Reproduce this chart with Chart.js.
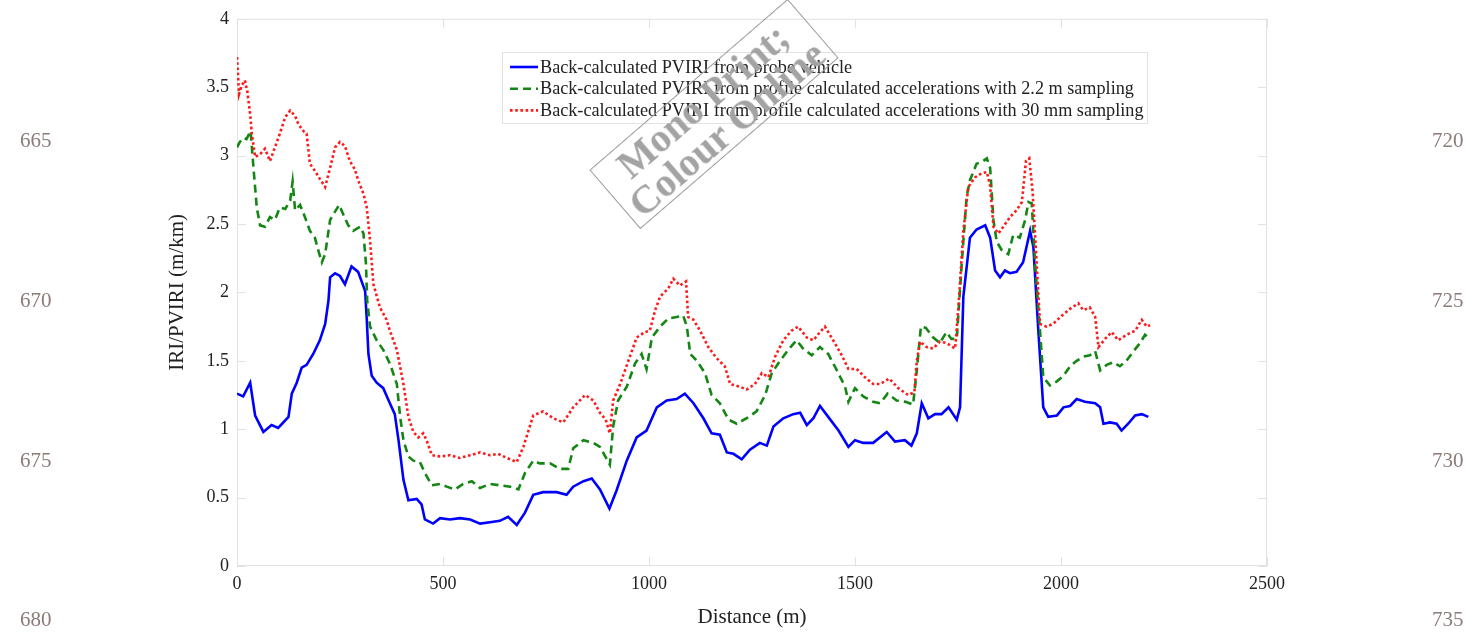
<!DOCTYPE html>
<html>
<head>
<meta charset="utf-8">
<script src="https://cdn.jsdelivr.net/npm/chart.js@4.4.0/dist/chart.umd.min.js"></script>
<style>
  html, body { margin: 0; padding: 0; background: #fff; }
  #wrap { position: relative; width: 1481px; height: 632px; overflow: hidden; }
  #chart { position: absolute; left: 0; top: 0; }
  .lineno { position: absolute; font: 21px "Liberation Serif", serif; color: #8b7b79; line-height: 1; }
  #stamp {
    position: absolute; left: 583px; top: 75px; width: 262px; height: 78px;
    border: 1px solid #9a9a9a; transform: rotate(-40.8deg);
    font: bold 40px "Liberation Serif", serif; color: #a3a3a3;
    text-align: center; line-height: 37px; padding-top: 2px;
    box-sizing: border-box; white-space: nowrap;
  }
</style>
</head>
<body>
<div id="wrap">
  <canvas id="chart" width="1481" height="632"></canvas>
  <div class="lineno" style="left:20px;top:130px">665</div>
  <div class="lineno" style="left:20px;top:290px">670</div>
  <div class="lineno" style="left:20px;top:450px">675</div>
  <div class="lineno" style="left:20px;top:609px">680</div>
  <div class="lineno" style="left:1432px;top:130px">720</div>
  <div class="lineno" style="left:1432px;top:290px">725</div>
  <div class="lineno" style="left:1432px;top:450px">730</div>
  <div class="lineno" style="left:1432px;top:609px">735</div>
  <div id="stamp">Mono Print;<br>Colour Online</div>
</div>
<script>
// PVIRI from the probe vehicle
const probeDist = [0, 15, 32, 44, 64, 84, 100, 125, 133, 145, 157, 169, 185, 201, 214, 222, 226, 238, 250, 262,
  278, 294, 311, 315, 319, 327, 339, 355, 371, 383, 392, 404, 416, 436, 448, 456, 476, 493, 517, 541,
  566, 590, 614, 638, 658, 679, 699, 719, 743, 776, 800, 816, 841, 861, 881, 904, 921, 946, 970, 994,
  1019, 1043, 1067, 1087, 1108, 1132, 1152, 1172, 1189, 1205, 1225, 1245, 1269, 1286, 1302, 1326, 1350, 1367, 1383, 1399,
  1415, 1435, 1460, 1484, 1500, 1520, 1544, 1577, 1597, 1621, 1637, 1650, 1662, 1678, 1694, 1710, 1727, 1747, 1755, 1763,
  1779, 1795, 1816, 1828, 1840, 1852, 1864, 1876, 1892, 1908, 1925, 1933, 1945, 1957, 1969, 1990, 2006, 2022, 2038, 2058,
  2083, 2095, 2103, 2119, 2135, 2147, 2163, 2180, 2196, 2212];
const probeIri = [1.26, 1.24, 1.34, 1.10, 0.98, 1.03, 1.01, 1.09, 1.26, 1.34, 1.45, 1.47, 1.55, 1.65, 1.77, 1.94, 2.11, 2.14, 2.12, 2.06,
  2.19, 2.15, 2.01, 1.80, 1.55, 1.39, 1.34, 1.30, 1.19, 1.11, 0.92, 0.63, 0.48, 0.49, 0.45, 0.34, 0.31, 0.35, 0.34, 0.35,
  0.34, 0.31, 0.32, 0.33, 0.36, 0.30, 0.39, 0.52, 0.54, 0.54, 0.52, 0.58, 0.62, 0.64, 0.56, 0.42, 0.55, 0.77, 0.94, 0.99,
  1.16, 1.21, 1.22, 1.26, 1.19, 1.08, 0.97, 0.96, 0.83, 0.82, 0.78, 0.85, 0.90, 0.88, 1.02, 1.08, 1.11, 1.12, 1.03, 1.08,
  1.17, 1.09, 0.99, 0.87, 0.92, 0.90, 0.90, 0.98, 0.91, 0.92, 0.88, 0.97, 1.19, 1.08, 1.11, 1.11, 1.16, 1.07, 1.16, 1.97,
  2.40, 2.46, 2.49, 2.40, 2.16, 2.11, 2.16, 2.14, 2.15, 2.22, 2.45, 2.33, 1.72, 1.16, 1.09, 1.10, 1.16, 1.17, 1.22, 1.20,
  1.19, 1.16, 1.04, 1.05, 1.04, 0.99, 1.04, 1.10, 1.11, 1.09];

// profile accelerations, 2.2 m sampling
const coarseDist = [0, 7, 15, 23, 33, 40, 48, 56, 68, 80, 92, 104, 117, 129, 135, 141, 153, 165, 177, 189,
  197, 206, 214, 226, 238, 248, 258, 270, 282, 299, 307, 313, 316, 323, 339, 355, 371, 388, 396, 404,
  416, 428, 444, 456, 473, 493, 509, 529, 549, 570, 590, 614, 638, 663, 683, 699, 719, 735, 760, 784,
  804, 816, 841, 865, 881, 905, 913, 925, 946, 966, 982, 994, 1007, 1027, 1047, 1067, 1083, 1092, 1100, 1116,
  1136, 1152, 1172, 1193, 1213, 1237, 1261, 1282, 1298, 1318, 1338, 1358, 1374, 1395, 1415, 1435, 1456, 1476, 1484, 1500,
  1520, 1544, 1561, 1579, 1601, 1623, 1641, 1650, 1660, 1672, 1690, 1706, 1722, 1734, 1747, 1759, 1771, 1779, 1795, 1811,
  1820, 1828, 1836, 1844, 1856, 1872, 1884, 1900, 1913, 1921, 1929, 1937, 1949, 1957, 1973, 1990, 2006, 2022, 2038, 2054,
  2070, 2083, 2095, 2111, 2127, 2143, 2159, 2176, 2192, 2204, 2216];
const coarseIri = [3.06, 3.10, 3.13, 3.12, 3.18, 2.91, 2.62, 2.49, 2.48, 2.55, 2.53, 2.62, 2.61, 2.67, 2.81, 2.60, 2.64, 2.55, 2.45, 2.40,
  2.31, 2.22, 2.28, 2.53, 2.59, 2.64, 2.57, 2.49, 2.45, 2.48, 2.43, 2.21, 1.94, 1.75, 1.65, 1.58, 1.48, 1.33, 1.09, 0.92,
  0.80, 0.77, 0.76, 0.68, 0.59, 0.60, 0.58, 0.56, 0.60, 0.62, 0.57, 0.60, 0.59, 0.58, 0.56, 0.68, 0.77, 0.75, 0.75, 0.71,
  0.71, 0.86, 0.92, 0.90, 0.87, 0.74, 1.02, 1.21, 1.31, 1.48, 1.55, 1.44, 1.67, 1.75, 1.81, 1.82, 1.83, 1.75, 1.55, 1.50,
  1.41, 1.25, 1.19, 1.07, 1.04, 1.08, 1.13, 1.25, 1.41, 1.50, 1.58, 1.65, 1.59, 1.54, 1.60, 1.55, 1.43, 1.31, 1.20, 1.30,
  1.24, 1.20, 1.19, 1.26, 1.21, 1.20, 1.18, 1.43, 1.75, 1.74, 1.67, 1.63, 1.71, 1.66, 1.66, 2.21, 2.70, 2.82, 2.94, 2.96,
  2.98, 2.91, 2.53, 2.37, 2.31, 2.28, 2.42, 2.40, 2.53, 2.66, 2.65, 2.21, 1.72, 1.38, 1.32, 1.35, 1.39, 1.46, 1.50, 1.53,
  1.54, 1.57, 1.43, 1.47, 1.49, 1.46, 1.50, 1.57, 1.63, 1.69, 1.66];

// profile accelerations, 30 mm sampling
const fineDist = [0, 5, 11, 19, 25, 32, 36, 44, 56, 68, 80, 92, 104, 117, 129, 141, 149, 161, 169, 177,
  189, 201, 214, 226, 238, 250, 262, 274, 286, 294, 307, 315, 323, 331, 347, 363, 371, 388, 404, 416,
  428, 440, 452, 460, 473, 493, 517, 541, 566, 590, 614, 634, 655, 679, 695, 719, 743, 768, 792, 816,
  845, 865, 881, 895, 905, 913, 930, 950, 970, 990, 1002, 1015, 1027, 1047, 1059, 1075, 1090, 1095, 1108, 1124,
  1144, 1164, 1184, 1197, 1221, 1237, 1257, 1274, 1290, 1306, 1326, 1346, 1362, 1383, 1399, 1415, 1427, 1447, 1468, 1484,
  1504, 1524, 1544, 1561, 1583, 1605, 1629, 1644, 1650, 1658, 1674, 1690, 1706, 1722, 1743, 1751, 1763, 1775, 1791, 1807,
  1820, 1828, 1836, 1848, 1860, 1876, 1892, 1905, 1915, 1923, 1931, 1941, 1949, 1965, 1981, 2002, 2022, 2042, 2054, 2070,
  2083, 2091, 2107, 2123, 2139, 2159, 2180, 2196, 2208, 2216];
const fineIri = [3.72, 3.45, 3.51, 3.55, 3.47, 3.30, 3.16, 2.99, 3.01, 3.05, 2.96, 3.06, 3.16, 3.28, 3.33, 3.29, 3.23, 3.18, 3.16, 2.94,
  2.89, 2.83, 2.77, 2.91, 3.06, 3.10, 3.07, 2.96, 2.90, 2.82, 2.72, 2.62, 2.38, 2.06, 1.89, 1.80, 1.72, 1.58, 1.33, 1.09,
  0.98, 0.94, 0.97, 0.92, 0.81, 0.80, 0.81, 0.79, 0.81, 0.83, 0.81, 0.82, 0.79, 0.76, 0.87, 1.10, 1.13, 1.08, 1.05, 1.16,
  1.25, 1.21, 1.12, 1.07, 0.97, 1.21, 1.33, 1.50, 1.67, 1.71, 1.72, 1.87, 1.97, 2.03, 2.10, 2.05, 2.08, 1.82, 1.80, 1.72,
  1.60, 1.52, 1.46, 1.33, 1.31, 1.29, 1.33, 1.41, 1.38, 1.53, 1.65, 1.72, 1.75, 1.67, 1.65, 1.71, 1.75, 1.65, 1.54, 1.44,
  1.44, 1.38, 1.33, 1.33, 1.37, 1.30, 1.25, 1.27, 1.50, 1.64, 1.60, 1.59, 1.64, 1.63, 1.59, 1.89, 2.45, 2.77, 2.84, 2.87,
  2.88, 2.78, 2.48, 2.43, 2.48, 2.55, 2.60, 2.66, 2.96, 2.98, 2.74, 2.21, 1.77, 1.75, 1.77, 1.83, 1.88, 1.92, 1.87, 1.89,
  1.82, 1.60, 1.66, 1.71, 1.65, 1.69, 1.72, 1.80, 1.75, 1.76];

const seriesLabels = [
  'Back-calculated PVIRI from probe vehicle',
  'Back-calculated PVIRI from profile calculated accelerations with 2.2 m sampling',
  'Back-calculated PVIRI from profile calculated accelerations with 30 mm sampling'
];
const xTicks = [0, 500, 1000, 1500, 2000, 2500];
const yTicks = [0, 0.5, 1, 1.5, 2, 2.5, 3, 3.5, 4];

const serif = '"Liberation Serif", "Times New Roman", serif';

function toPoints(xs, ys) {
  return xs.map((x, i) => ({ x: x, y: ys[i] }));
}

// light box round the plot with matlab style inward ticks
const boxPlugin = {
  id: 'box',
  beforeDatasetsDraw(chart) {
    const { ctx, chartArea: a, scales } = chart;
    const len = 9;
    ctx.save();
    ctx.strokeStyle = '#e2e2e2';
    ctx.lineWidth = 1;
    ctx.strokeRect(a.left + 0.5, a.top + 0.5, a.right - a.left - 1, a.bottom - a.top - 1);
    ctx.beginPath();
    xTicks.forEach(v => {
      const px = Math.round(scales.x.getPixelForValue(v)) + 0.5;
      ctx.moveTo(px, a.bottom); ctx.lineTo(px, a.bottom - len);
      ctx.moveTo(px, a.top); ctx.lineTo(px, a.top + len);
    });
    yTicks.forEach(v => {
      const py = Math.round(scales.y.getPixelForValue(v)) + 0.5;
      ctx.moveTo(a.left, py); ctx.lineTo(a.left + len, py);
      ctx.moveTo(a.right, py); ctx.lineTo(a.right - len, py);
    });
    ctx.stroke();
    ctx.restore();
  }
};

// legend box inside the plot
const legendBoxPlugin = {
  id: 'legendBox',
  afterDatasetsDraw(chart) {
    const ctx = chart.ctx;
    const x0 = 502, y0 = 52, w = 645, h = 71;
    ctx.save();
    ctx.fillStyle = '#fff';
    ctx.fillRect(x0, y0, w, h);
    ctx.strokeStyle = '#e2e2e2';
    ctx.lineWidth = 1;
    ctx.strokeRect(x0 + 0.5, y0 + 0.5, w, h);
    ctx.font = '18.2px ' + serif;
    ctx.textBaseline = 'middle';
    chart.data.datasets.forEach((ds, i) => {
      const y = y0 + 15 + i * 21.7;
      ctx.strokeStyle = ds.borderColor;
      ctx.lineWidth = ds.borderWidth;
      ctx.setLineDash(ds.borderDash || []);
      ctx.beginPath();
      ctx.moveTo(x0 + 8, y);
      ctx.lineTo(x0 + 36, y);
      ctx.stroke();
      ctx.setLineDash([]);
      ctx.fillStyle = '#222';
      ctx.fillText(ds.label, x0 + 38, y + 1);
    });
    ctx.restore();
  }
};

new Chart(document.getElementById('chart'), {
  type: 'line',
  data: {
    datasets: [
      {
        label: seriesLabels[0],
        data: toPoints(probeDist, probeIri),
        borderColor: '#0000ff',
        borderWidth: 2.6,
        order: 3
      },
      {
        label: seriesLabels[1],
        data: toPoints(coarseDist, coarseIri),
        borderColor: '#138613',
        borderWidth: 2.6,
        borderDash: [8, 5],
        order: 2
      },
      {
        label: seriesLabels[2],
        data: toPoints(fineDist, fineIri),
        borderColor: '#ff1a1a',
        borderWidth: 2.6,
        borderDash: [2.6, 2.6],
        order: 1
      }
    ]
  },
  options: {
    responsive: false,
    animation: false,
    parsing: false,
    elements: { point: { radius: 0 }, line: { tension: 0, fill: false } },
    layout: { padding: { left: 160, top: 18, right: 214, bottom: 0 } },
    plugins: { legend: { display: false }, tooltip: { enabled: false } },
    scales: {
      x: {
        type: 'linear',
        min: 0,
        max: 2500,
        afterFit(scale) { scale.height = 66; },
        afterBuildTicks(scale) { scale.ticks = xTicks.map(v => ({ value: v })); },
        grid: { display: false, drawTicks: false },
        border: { display: false },
        ticks: {
          font: { family: serif, size: 18 }, color: '#222', padding: 7, maxRotation: 0,
          callback: v => String(v)
        },
        title: { display: true, text: 'Distance (m)', font: { family: serif, size: 21 }, color: '#222', padding: { top: 0, bottom: 2 } }
      },
      y: {
        min: 0,
        max: 4,
        afterFit(scale) { scale.width = 77; },
        afterBuildTicks(scale) { scale.ticks = yTicks.map(v => ({ value: v })); },
        grid: { display: false, drawTicks: false },
        border: { display: false },
        ticks: {
          font: { family: serif, size: 18 }, color: '#222', padding: 8,
          callback: v => String(v)
        },
        title: { display: true, text: 'IRI/PVIRI (m/km)', font: { family: serif, size: 21 }, color: '#222', padding: { top: 5, bottom: 0 } }
      }
    }
  },
  plugins: [boxPlugin, legendBoxPlugin]
});
</script>
</body>
</html>
